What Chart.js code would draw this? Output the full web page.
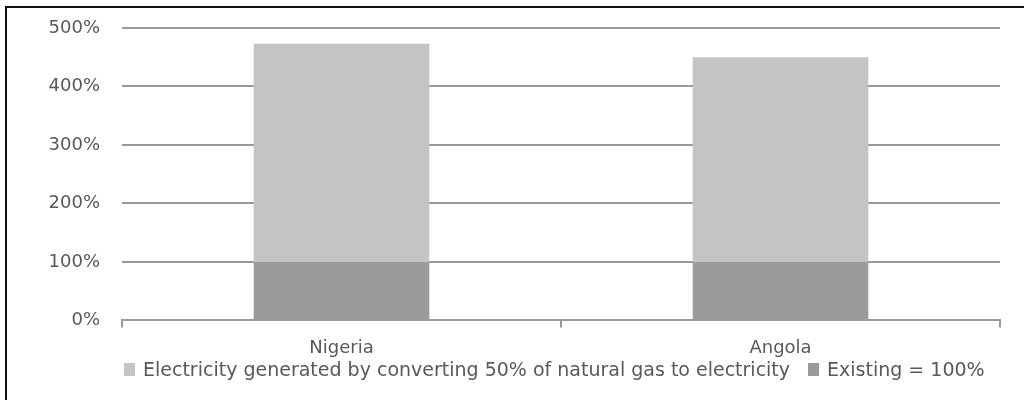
<!DOCTYPE html>
<html>
<head>
<meta charset="utf-8">
<script src="https://cdn.jsdelivr.net/npm/chart.js@4"></script>
<style>
  html, body { margin: 0; padding: 0; background: #fff; width: 1024px; height: 400px; overflow: hidden; }
  #frame { position: absolute; left: 5px; top: 6px; width: 1019px; height: 394px; border-left: 2px solid #111; border-top: 2px solid #111; box-sizing: border-box; }
  #wrap { position: absolute; left: 0; top: 0; width: 1017px; height: 392px; }
  #legend { position: absolute; left: 124px; top: 360px; display: flex; align-items: flex-start;
            font-family: 'DejaVu Sans', sans-serif; font-size: 19px; line-height: 19px; color: #595959; white-space: nowrap; }
  #legend .item { display: flex; align-items: flex-start; margin-right: 18px; }
  #legend .box { width: 11px; height: 13px; margin-top: 3px; margin-right: 8px; }
</style>
</head>
<body>
<div id="frame"><div id="wrap"><canvas id="c"></canvas></div></div>
<div id="legend"></div>
<script>
const categories = ['Nigeria', 'Angola'];
const existing = [100, 100];
const converted = [373, 350];
const yTicks = [0, 100, 200, 300, 400, 500];

const gridGray = '#9a9a9a';
const textGray = '#595959';
const fontFam = "'DejaVu Sans', sans-serif";
const LEFT_PAD = 30;

const chart = new Chart(document.getElementById('c'), {
  type: 'bar',
  data: {
    labels: categories,
    datasets: [
      { label: 'Existing = 100%', data: existing, backgroundColor: '#9b9b9b', barPercentage: 0.4, categoryPercentage: 1 },
      { label: 'Electricity generated by converting 50% of natural gas to electricity', data: converted, backgroundColor: '#c4c4c4', barPercentage: 0.4, categoryPercentage: 1 }
    ]
  },
  options: {
    responsive: true,
    maintainAspectRatio: false,
    animation: false,
    layout: { padding: { top: 20, right: 24, left: LEFT_PAD, bottom: 31 } },
    plugins: {
      tooltip: { enabled: false },
      legend: { display: false }
    },
    scales: {
      x: {
        stacked: true,
        grid: { display: true, drawOnChartArea: false, drawTicks: true, tickLength: 7, offset: true, color: gridGray, lineWidth: 2 },
        border: { display: true, color: gridGray, width: 2 },
        ticks: { color: textGray, padding: 10, font: { family: fontFam, size: 18 } }
      },
      y: {
        stacked: true,
        min: 0, max: 500,
        afterBuildTicks: (axis) => { axis.ticks = yTicks.map(v => ({ value: v })); },
        afterFit: (axis) => { axis.width = 115 - LEFT_PAD; },
        grid: { color: gridGray, lineWidth: 2, drawTicks: true, tickLength: 22, tickColor: 'rgba(0,0,0,0)' },
        border: { display: false },
        ticks: { color: textGray, padding: 0, font: { family: fontFam, size: 18 }, callback: v => v + '%' }
      }
    }
  }
});

// HTML legend built from the chart's datasets (reverse order, like the reference)
const legendEl = document.getElementById('legend');
chart.data.datasets.slice().reverse().forEach(ds => {
  const item = document.createElement('div');
  item.className = 'item';
  const box = document.createElement('span');
  box.className = 'box';
  box.style.background = ds.backgroundColor;
  const txt = document.createElement('span');
  txt.textContent = ds.label;
  item.appendChild(box);
  item.appendChild(txt);
  legendEl.appendChild(item);
});
</script>
</body>
</html>
